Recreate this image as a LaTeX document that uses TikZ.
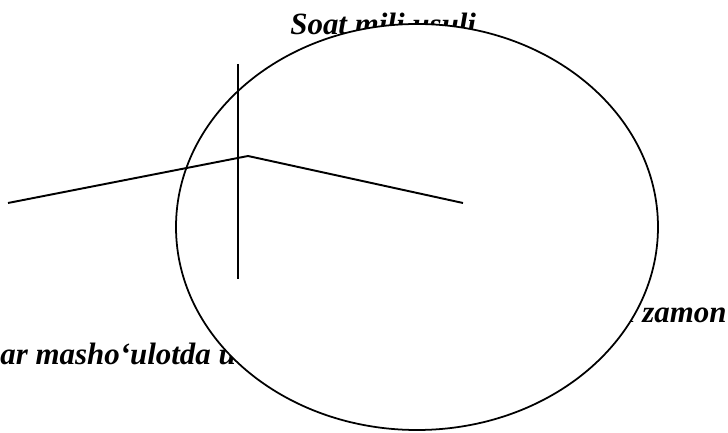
\documentclass[tikz,border=0pt]{standalone}
\usepackage{fontspec}
\setmainfont{Liberation Serif}
\tikzset{
  hand/.style={
    line width=1.1pt,
    line cap=butt
  },
  dial/.style={
    draw,
    line width=1pt,
    fill=white
  },
  labeltext/.style={
    inner sep=0pt,
    font=\bfseries\itshape\fontsize{17.6}{20}\selectfont
  },
  every picture/.style={
    x=0.02cm,
    y=0.02cm
  }
}
\begin{document}
\begin{tikzpicture}
    \useasboundingbox (0,0) rectangle (728,433);
    % texts first, the dial covers them in part
    \node[labeltext,anchor=base west] (title) at (290,398) {Soat mili usuli};
    \node[labeltext,anchor=base west] (left) at (0,68) {ar masho‘ulotda u};
    \node[labeltext,anchor=base east] (right) at (727,110) {a zamon};
    \draw[dial] (417,206) ellipse [x radius=241, y radius=203];
    \coordinate (c) at (248,277);
    \foreach \n/\p in {l/{8,230},r/{463,230},up/{238,369},down/{238,154}}{
        \coordinate (\n) at (\p);
    }
    \draw[hand] (l) -- (c) -- (r);
    \draw[hand] (up) -- (down);
\end{tikzpicture}
\end{document}
